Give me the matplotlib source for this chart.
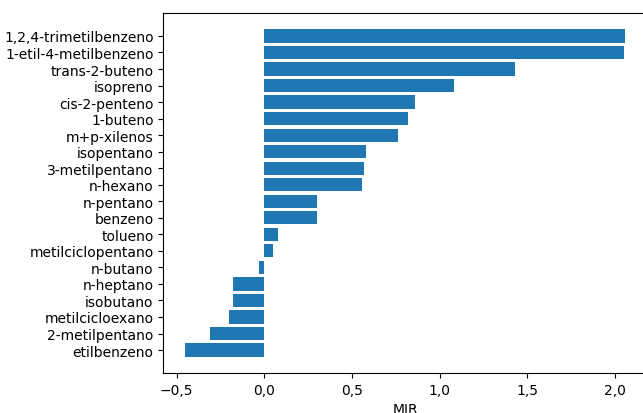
import matplotlib
matplotlib.use("Agg")
import matplotlib.pyplot as plt
from matplotlib.ticker import FuncFormatter

# MIR values per compound (top to bottom)
compounds = [
    "1,2,4-trimetilbenzeno", "1-etil-4-metilbenzeno", "trans-2-buteno",
    "isopreno", "cis-2-penteno", "1-buteno", "m+p-xilenos", "isopentano",
    "3-metilpentano", "n-hexano", "n-pentano", "benzeno", "tolueno",
    "metilciclopentano", "n-butano", "n-heptano", "isobutano",
    "metilcicloexano", "2-metilpentano", "etilbenzeno",
]
mir = [
    2.06, 2.05, 1.43, 1.08, 0.86, 0.82, 0.76, 0.58, 0.57, 0.56,
    0.30, 0.30, 0.08, 0.05, -0.03, -0.18, -0.18, -0.20, -0.31, -0.45,
]


def comma_fmt(x, pos):
    s = f"{x:.1f}".replace(".", ",")
    return s.replace("-", "\u2212")


fig = plt.figure(figsize=(6.43, 4.14), dpi=100)
# right spine falls just outside the picture, like the cropped original
ax = fig.add_axes([0.2541, 0.0966, 0.7529, 0.8696])

ax.barh(compounds, mir, color="#1f77b4")
ax.invert_yaxis()
ax.xaxis.set_major_formatter(FuncFormatter(comma_fmt))
ax.set_xlabel("MIR")

fig.savefig("out.png", dpi=100)
